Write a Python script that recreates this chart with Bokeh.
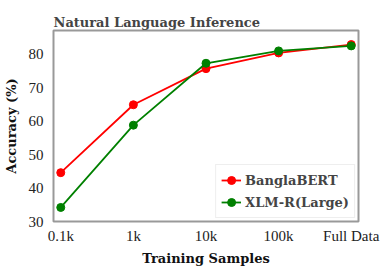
from bokeh.plotting import figure
from bokeh.models import FixedTicker, Legend, LegendItem, Title
from bokeh.embed import file_html
from bokeh.resources import INLINE

categories = ["0.1k", "1k", "10k", "100k", "Full Data"]
banglabert = [44.6, 64.9, 75.7, 80.4, 82.9]
xlmr_large = [34.2, 58.8, 77.3, 81.0, 82.5]
y_ticks = [30, 40, 50, 60, 70, 80]

xs = list(range(len(categories)))

p = figure(frame_width=305, frame_height=191, output_backend="svg", toolbar_location=None,
           x_range=(-0.1, 4.1), y_range=(30, 87.1), title_location=None,
           min_border_left=0, min_border_right=30, min_border_top=0, min_border_bottom=0)

main_title = Title(text="Natural Language Inference", text_font="DejaVu Serif",
                   text_font_style="bold", text_font_size="13px", offset=0,
                   standoff=1, align="left")
p.add_layout(main_title, "above")
spacer = Title(text=" ", text_font_size="9px", offset=0, standoff=0)
p.add_layout(spacer, "above")

p.xgrid.visible = False
p.ygrid.visible = False
p.outline_line_color = "#999999"
p.outline_line_width = 2

for ax in (p.xaxis, p.yaxis):
    ax.axis_line_color = None
    ax.major_tick_line_color = None
    ax.minor_tick_line_color = None
    ax.major_label_text_font = "Liberation Serif"
    ax.major_label_text_font_size = "15px"
    ax.major_label_text_color = "#222222"
    ax.axis_label_text_font = "DejaVu Serif"
    ax.axis_label_text_font_style = "bold"
    ax.axis_label_text_font_size = "13px"
    ax.axis_label_text_color = "#111111"

p.xaxis.ticker = FixedTicker(ticks=xs)
p.xaxis.major_label_overrides = {i: c for i, c in enumerate(categories)}
p.xaxis.axis_label = "Training Samples"
p.xaxis.major_label_standoff = 0
p.xaxis.axis_label_standoff = 4

p.yaxis.ticker = FixedTicker(ticks=y_ticks)
p.yaxis.axis_label = "Accuracy (%)"
p.yaxis.major_label_standoff = 4
p.yaxis.axis_label_standoff = 7

r1 = p.line(xs, banglabert, line_color="#ff0000", line_width=1.8)
c1 = p.scatter(xs, banglabert, size=8, fill_color="#ff0000", line_color="#ff0000")
r2 = p.line(xs, xlmr_large, line_color="#008000", line_width=1.8)
c2 = p.scatter(xs, xlmr_large, size=8, fill_color="#008000", line_color="#008000")

legend = Legend(items=[LegendItem(label="BanglaBERT", renderers=[r1, c1]),
                       LegendItem(label="XLM-R(Large)", renderers=[r2, c2])],
                location="bottom_right")
legend.label_text_font = "DejaVu Serif"
legend.label_text_font_style = "bold"
legend.label_text_font_size = "13px"
legend.border_line_color = "#dddddd"
legend.border_line_width = 1
legend.glyph_width = 20
legend.spacing = 2
legend.padding = 5
legend.margin = 3
legend.label_standoff = 4
p.add_layout(legend)

open("out.html", "w").write(file_html(p, INLINE))
